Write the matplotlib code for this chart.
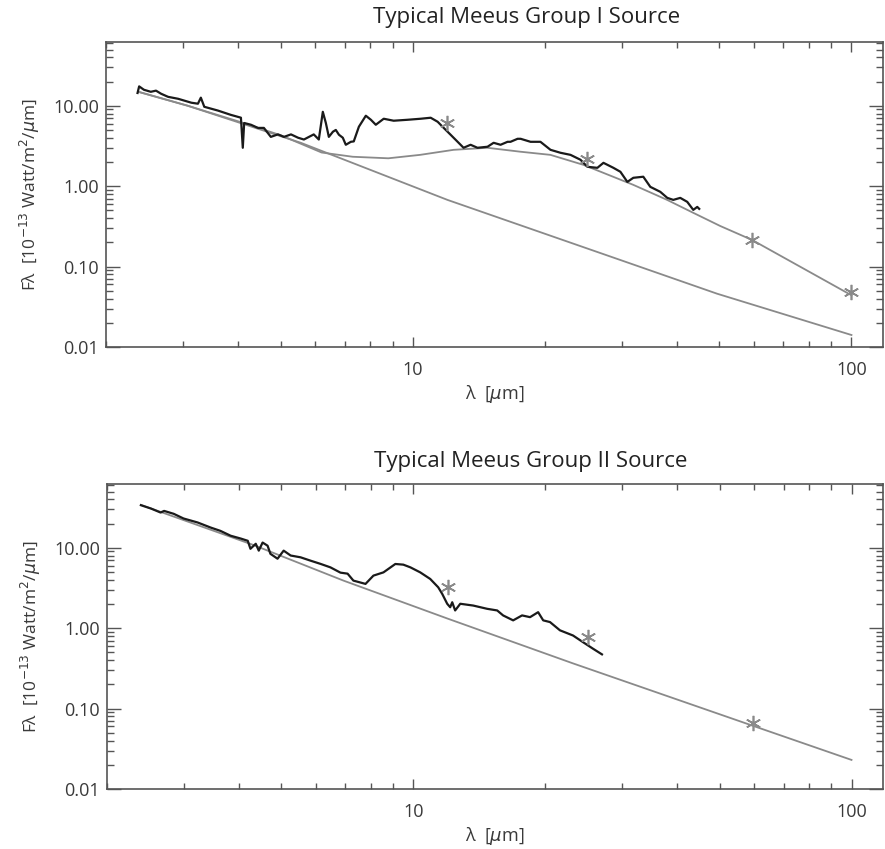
import matplotlib
matplotlib.use('Agg')
import matplotlib.pyplot as plt
from matplotlib.ticker import FixedLocator, FuncFormatter, NullFormatter, LogLocator

# ---------------- Group I (top) ----------------
g1_spec_wl = [2.36, 2.38, 2.44, 2.53, 2.60, 2.67, 2.77, 2.92, 3.13, 3.24, 3.29, 3.35, 3.60, 3.85,
              4.06, 4.10, 4.13, 4.28, 4.44, 4.58, 4.75, 4.93, 5.09, 5.28, 5.48, 5.65, 5.95, 6.11,
              6.24, 6.34, 6.44, 6.58, 6.68, 6.79, 6.93, 7.04, 7.23, 7.34, 7.54, 7.82, 8.03, 8.24,
              8.59, 9.05, 9.74, 10.43, 10.99, 11.40, 11.76, 12.20, 12.66, 13.06, 13.55, 14.05,
              14.81, 15.29, 15.86, 16.45, 16.71, 17.34, 17.62, 18.56, 19.55, 20.61, 21.72, 22.89,
              24.12, 25.02, 26.36, 27.21, 28.67, 29.74, 30.85, 31.83, 33.54, 34.80, 36.67, 38.04,
              39.26, 40.72, 42.24, 43.60, 44.52, 44.98]
g1_spec_f = [14.4, 17.4, 15.8, 14.9, 15.4, 14.1, 12.9, 12.2, 10.9, 10.6, 12.6, 9.7, 8.7, 7.7,
             7.1, 3.0, 6.1, 5.8, 5.3, 5.3, 4.1, 4.4, 4.1, 4.4, 4.0, 3.8, 4.4, 3.8,
             8.4, 6.1, 4.1, 4.75, 5.0, 4.36, 4.0, 3.27, 3.56, 3.6, 5.48, 7.51, 6.69, 5.80,
             6.89, 6.51, 6.69, 6.89, 7.09, 6.32, 5.32, 4.36, 3.56, 3.00, 3.27, 3.00,
             3.09, 3.46, 3.27, 3.56, 3.56, 3.88, 3.88, 3.56, 3.56, 2.83, 2.60, 2.45,
             2.13, 1.74, 1.69, 1.95, 1.69, 1.51, 1.13, 1.27, 1.31, 0.98, 0.85, 0.715,
             0.675, 0.715, 0.638, 0.507, 0.552, 0.522]

g1_disk_wl = [2.37, 3.07, 4.0, 5.0, 6.2, 7.3, 8.8, 10.4, 12.4, 14.8, 17.6, 20.6, 24.5, 31.8,
              38.0, 43.6, 50.2, 59.4, 100.0]
g1_disk_f = [14.9, 10.0, 6.4, 4.3, 2.62, 2.32, 2.22, 2.45, 2.83, 3.0, 2.68, 2.45, 1.84, 1.04,
             0.675, 0.466, 0.32, 0.214, 0.044]

g1_phot_wl = [2.37, 3.07, 5.56, 12.0, 29.7, 49.4, 100.0]
g1_phot_f = [14.9, 10.0, 3.46, 0.675, 0.121, 0.046, 0.0141]

g1_phot_pts_wl = [12.0, 24.9, 59.4, 100.0]
g1_phot_pts_f = [6.1, 2.15, 0.214, 0.048]

# ---------------- Group II (bottom) ----------------
g2_spec_wl = [2.39, 2.52, 2.65, 2.70, 2.84, 2.99, 3.22, 3.45, 3.63, 3.83, 4.04, 4.19, 4.25, 4.37,
              4.44, 4.53, 4.65, 4.72, 4.90, 5.06, 5.25, 5.53, 5.83, 6.14, 6.47, 6.82, 7.08, 7.30,
              7.78, 8.11, 8.55, 9.10, 9.49, 9.85, 10.37, 10.93, 11.40, 11.64, 11.95, 12.14, 12.27,
              12.46, 12.80, 13.70, 14.74, 15.54, 16.03, 16.90, 17.71, 18.47, 19.27, 19.79, 20.51,
              21.61, 23.15, 24.39, 25.70, 26.95]
g2_spec_f = [33.8, 30.7, 27.4, 28.7, 26.4, 23.1, 20.6, 17.8, 16.2, 14.1, 13.0, 12.2, 9.7, 11.2,
             9.2, 11.6, 10.6, 8.4, 7.3, 9.2, 8.0, 7.6, 6.9, 6.3, 5.7, 4.9, 4.76, 3.9,
             3.55, 4.5, 4.94, 6.28, 6.16, 5.70, 4.94, 4.09, 3.22, 2.67, 2.01, 1.82, 2.10,
             1.66, 2.01, 1.91, 1.74, 1.66, 1.44, 1.25, 1.44, 1.37, 1.58, 1.25, 1.19,
             0.94, 0.81, 0.67, 0.556, 0.472]

g2_phot_wl = [2.39, 4.32, 6.93, 11.95, 23.1, 59.1, 100.0]
g2_phot_f = [34.1, 10.8, 3.9, 1.32, 0.366, 0.062, 0.023]

g2_phot_pts_wl = [12.0, 25.0, 59.5]
g2_phot_pts_f = [3.29, 0.77, 0.066]

titles = ["Typical Meeus Group I Source", "Typical Meeus Group II Source"]
ytick_vals = [0.01, 0.1, 1.0, 10.0]
xtick_vals = [10, 100]

plt.rcParams['font.family'] = ['Open Sans', 'DejaVu Sans']
plt.rcParams['mathtext.fontset'] = 'dejavusans'

SPEC_C = '#1a1a1a'
MOD_C = '#8a8a8a'
AX_C = '#555555'
TXT_C = '#3a3a3a'

fig = plt.figure(figsize=(8.85, 8.49), dpi=100)
ax1 = fig.add_axes([106/885, 1-347/849, (883-106)/885, (347-42)/849])
ax2 = fig.add_axes([107/885, 1-789/849, (883-107)/885, (789-484)/849])


def style(ax):
    ax.set_xscale('log')
    ax.set_yscale('log')
    ax.set_xlim(2.0, 118)
    ax.set_ylim(0.01, 62)
    ax.xaxis.set_major_locator(FixedLocator(xtick_vals))
    ax.xaxis.set_minor_locator(LogLocator(base=10, subs=range(2, 10), numticks=20))
    ax.xaxis.set_major_formatter(FuncFormatter(lambda v, p: '%d' % round(v)))
    ax.xaxis.set_minor_formatter(NullFormatter())
    ax.yaxis.set_major_locator(FixedLocator(ytick_vals))
    ax.yaxis.set_minor_locator(LogLocator(base=10, subs=range(2, 10), numticks=20))
    ax.yaxis.set_major_formatter(FuncFormatter(lambda v, p: '%.2f' % v))
    ax.yaxis.set_minor_formatter(NullFormatter())
    for s in ax.spines.values():
        s.set_color(AX_C)
        s.set_linewidth(1.2)
    ax.tick_params(axis='both', which='both', direction='in', top=True, right=True,
                   colors=AX_C, labelcolor=TXT_C, width=1.0)
    ax.tick_params(axis='x', which='major', length=7, pad=10, labelsize=13)
    ax.tick_params(axis='x', which='minor', length=4)
    ax.tick_params(axis='y', which='major', length=10, pad=5, labelsize=13)
    ax.tick_params(axis='y', which='minor', length=5)
    ax.set_xlabel('λ  [$\\mu$m]', fontsize=13, color=TXT_C, labelpad=3)
    ax.set_ylabel('Fλ  [10$^{-13}$ Watt/m$^2$/$\\mu$m]', fontsize=12.5, color=TXT_C, labelpad=8)


style(ax1)
ax1.plot(g1_phot_wl, g1_phot_f, color=MOD_C, lw=1.3)
ax1.plot(g1_disk_wl, g1_disk_f, color=MOD_C, lw=1.3)
ax1.plot(g1_spec_wl, g1_spec_f, color=SPEC_C, lw=1.6)
ax1.plot(g1_phot_pts_wl, g1_phot_pts_f, linestyle='none', marker=(6, 2, 0), ms=11,
         mew=1.2, color=MOD_C)

style(ax2)
ax2.plot(g2_phot_wl, g2_phot_f, color=MOD_C, lw=1.3)
ax2.plot(g2_spec_wl, g2_spec_f, color=SPEC_C, lw=1.6)
ax2.plot(g2_phot_pts_wl, g2_phot_pts_f, linestyle='none', marker=(6, 2, 0), ms=11,
         mew=1.2, color=MOD_C)

fig.text(527/885, 1-18/849, titles[0], ha='center', va='center', fontsize=16, color='#222222')
fig.text(531/885, 1-462/849, titles[1], ha='center', va='center', fontsize=16, color='#222222')

fig.savefig('out.png', dpi=100)
